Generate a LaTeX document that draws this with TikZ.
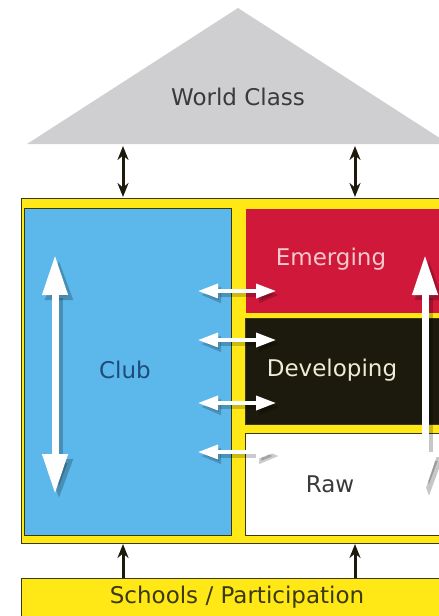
\documentclass[tikz,border=0pt]{standalone}
\usepackage{fontspec}
\setmainfont{DejaVu Sans}
\usetikzlibrary{arrows.meta}
\definecolor{roofgray}{HTML}{CFCFD1}
\definecolor{clubblue}{HTML}{5CB8EA}
\definecolor{emred}{HTML}{D0183A}
\definecolor{devblack}{HTML}{1C1A0C}
\definecolor{frameyellow}{HTML}{FFE816}
\definecolor{edgedark}{HTML}{3A3A10}
\definecolor{clubtext}{HTML}{1E4C7A}
\definecolor{emtext}{HTML}{F6C9CC}
\definecolor{devtext}{HTML}{EFEBD6}
\definecolor{darktext}{HTML}{3A3A3A}
\tikzset{
  x=1pt, y=-1pt,
  panel/.style={draw=edgedark, line width=1pt, inner sep=0pt, anchor=north west},
  label/.style={font=\fontsize{23}{27}\selectfont, inner sep=0pt},
  darkarrow/.style={draw=devblack, line width=3pt, {Stealth[width=11pt,length=14pt]}-{Stealth[width=11pt,length=14pt]}},
  uparrow/.style={draw=devblack, line width=3pt, -{Stealth[width=11pt,length=14pt]}},
  bigarrow/.style={draw=white, line width=7pt, {Triangle[width=24pt,length=40pt]}-{Triangle[width=24pt,length=40pt]}},
  bigshadow/.style={draw=black, opacity=0.22, line width=8pt, {Triangle[width=26pt,length=40pt]}-{Triangle[width=26pt,length=40pt]}},
  smallarrow/.style={draw=white, line width=3.5pt, {Triangle[width=14pt,length=20pt]}-{Triangle[width=14pt,length=20pt]}},
  smallshadow/.style={draw=black, opacity=0.2, line width=4.5pt, {Triangle[width=15pt,length=20pt]}-{Triangle[width=15pt,length=20pt]}},
}
\begin{document}
\begin{tikzpicture}
\useasboundingbox (0,0) rectangle (439,616);
\clip (0,0) rectangle (439,616);
% roof
\fill[roofgray] (27,144) -- (238,8) -- (449,144) -- cycle;
\node[label, text=darktext] (world) at (238,97) {World Class};
% frame
\node[panel, fill=frameyellow, minimum width=430pt, minimum height=345pt] (frame) at (21,198) {};
\node[panel, fill=clubblue, minimum width=207pt, minimum height=327pt] (club) at (24,208) {};
\node[panel, draw=none, fill=emred, minimum width=200pt, minimum height=104pt] (emerging) at (245,208) {};
\node[panel, fill=devblack, minimum width=200pt, minimum height=106pt] (developing) at (245,318) {};
\node[panel, fill=white, minimum width=200pt, minimum height=102pt] (raw) at (245,433) {};
\node[panel, fill=frameyellow, minimum width=430pt, minimum height=40pt] (schools) at (21,578) {};
% labels
\node[label, text=clubtext] (clubl) at (125,370) {Club};
\node[label, text=emtext] (eml) at (331,259) {Emerging};
\node[label, text=devtext] (devl) at (332,370) {Developing};
\node[label, text=darktext] (rawl) at (330,484) {Raw};
\node[label, text=edgedark] (schl) at (237,597) {Schools / Participation};
% dark connectors
\coordinate (r1) at (123,146); \coordinate (f1) at (123,197);
\coordinate (r2) at (355,146); \coordinate (f2) at (355,197);
\draw[darkarrow] (r1) -- (f1);
\draw[darkarrow] (r2) -- (f2);
\coordinate (s1) at (123,578); \coordinate (b1) at (123,544);
\coordinate (s2) at (355,578); \coordinate (b2) at (355,544);
\draw[uparrow] (s1) -- (b1);
\draw[uparrow] (s2) -- (b2);
% big white arrows
\coordinate (ct) at (55,255); \coordinate (cb) at (55,494);
\coordinate (rt) at (425,255); \coordinate (rb) at (425,492);
\draw[bigshadow] ([shift={(4,5)}]ct) -- ([shift={(4,5)}]cb);
\draw[bigarrow] (ct) -- (cb);
\draw[bigshadow] ([shift={(4,5)}]rt) -- ([shift={(4,5)}]rb);
\draw[bigarrow] (rt) -- (rb);
% small horizontal arrows
\foreach \n/\yy in {a/291,b/340,c/403,d/452}{
  \coordinate (h\n l) at (198,\yy); \coordinate (h\n r) at (276,\yy);
  \draw[smallshadow] ([shift={(3,4)}]h\n l) -- ([shift={(3,4)}]h\n r);
  \draw[smallarrow] (h\n l) -- (h\n r);
}
\end{tikzpicture}
\end{document}
